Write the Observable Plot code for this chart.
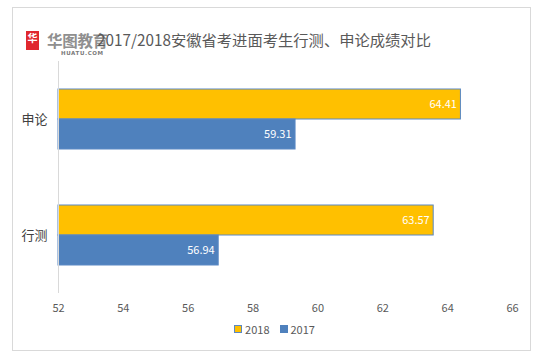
<!DOCTYPE html>
<html>
<head>
<meta charset="utf-8">
<script src="https://cdn.jsdelivr.net/npm/d3@7"></script>
<script src="https://cdn.jsdelivr.net/npm/@observablehq/plot@0.6"></script>
<style>
  html, body { margin: 0; padding: 0; background: #fff; }
  #wrap { position: relative; width: 541px; height: 361px; overflow: hidden; font-family: "Noto Sans CJK SC", "Noto Sans", sans-serif; }
  #frame { position: absolute; left: 12px; top: 7px; width: 519px; height: 344px; border: 1px solid #D9D9D9; box-sizing: border-box; }
  #title { position: absolute; left: 97px; top: 29px; font-size: 15.3px; color: #595959; white-space: nowrap; line-height: 20px; }
  #logo { position: absolute; left: 26px; top: 31px; }
  #logo .icon { position: absolute; left: 0; top: 0; width: 13px; height: 19px; background: #E0282E; color: #fff; font-size: 10px; font-weight: bold; text-align: center; line-height: 14px; }
  #logo .name { position: absolute; left: 21px; top: 0px; font-size: 15.5px; font-weight: bold; color: #8f8f8f; white-space: nowrap; line-height: 19px; letter-spacing: -0.3px; }
  #logo .url { position: absolute; left: 35px; top: 19px; font-size: 5.5px; font-weight: bold; color: #7a7a7a; white-space: nowrap; letter-spacing: 0.6px; font-family: "DejaVu Sans", sans-serif; }
  #chart { position: absolute; left: 0; top: 50px; }
  #legend { position: absolute; top: 320px; left: 0; width: 541px; text-align: center; font-size: 11px; color: #595959; padding-left: 8px; box-sizing: border-box; }
  #legend span.item { display: inline-flex; align-items: center; margin: 0 5px; }
  #legend span.sw { display: inline-block; width: 6px; height: 6px; margin-right: 3px; box-sizing: content-box; }
</style>
</head>
<body>
<div id="wrap">
  <div id="frame"></div>
  <div id="logo"><div class="icon">华</div><div class="name">华图教育</div><div class="url">HUATU.COM</div></div>
  <div id="title">2017/2018安徽省考进面考生行测、申论成绩对比</div>
  <div id="chart"></div>
  <div id="legend"></div>
</div>
<script>
const categories = ["申论", "行测"];
const years = ["2018", "2017"];
const values2018 = [64.41, 63.57];
const values2017 = [59.31, 56.94];
const xTicks = [52, 54, 56, 58, 60, 62, 64, 66];
const colors = ["#FFC000", "#4F81BD"];

const data = [];
categories.forEach((c, i) => {
  data.push({category: c, year: "2018", value: values2018[i]});
  data.push({category: c, year: "2017", value: values2017[i]});
});

const chart = Plot.plot({
  width: 541,
  height: 268,
  marginLeft: 58,
  marginRight: 29,
  marginTop: 10,
  marginBottom: 25,
  style: {fontFamily: "'Noto Sans CJK SC', 'Noto Sans', sans-serif", background: "transparent"},
  x: {domain: [52, 66], label: null, axis: null},
  fy: {domain: categories, paddingInner: 0, paddingOuter: 0, label: null, axis: null},
  y: {domain: years, paddingInner: 0, paddingOuter: 0.91, axis: null},
  color: {domain: years, range: colors},
  marks: [
    Plot.barX(data, {fy: "category", y: "year", x1: 52, x2: "value", fill: "year", stroke: "#5A88C4", strokeWidth: 1}),
    Plot.text(data, {fy: "category", y: "year", x: "value", text: d => d.value.toFixed(2), textAnchor: "end", dx: -4, fill: "white", fontSize: 11}),
    Plot.axisX({ticks: xTicks, tickSize: 0, tickPadding: 11, fontSize: 11, fill: "#595959", tickFormat: d => String(d), label: null}),
    Plot.axisFy({anchor: "left", tickSize: 0, tickPadding: 11, fontSize: 13, fill: "#404040", label: null}),
    Plot.ruleX([52], {stroke: "#D9D9D9", strokeWidth: 1})
  ]
});
document.getElementById("chart").appendChild(chart);

const legend = document.getElementById("legend");
years.forEach((y, i) => {
  const item = document.createElement("span");
  item.className = "item";
  const sw = document.createElement("span");
  sw.className = "sw";
  sw.style.background = colors[i];
  sw.style.border = i === 0 ? "1px solid #5A88C4" : "1px solid " + colors[i];
  item.appendChild(sw);
  item.appendChild(document.createTextNode(y));
  legend.appendChild(item);
});
</script>
</body>
</html>
